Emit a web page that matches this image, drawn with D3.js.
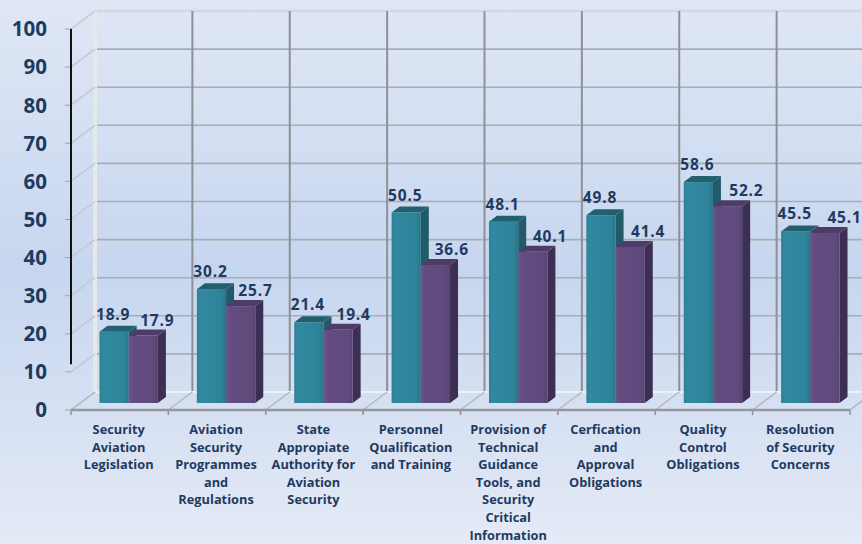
<!DOCTYPE html>
<html>
<head>
<meta charset="utf-8">
<script src="https://cdn.jsdelivr.net/npm/d3@7"></script>
<style>
  html, body { margin: 0; padding: 0; }
  body { width: 862px; height: 544px; overflow: hidden; }
  svg { display: block; }
</style>
</head>
<body>
<svg id="chart" width="862" height="544"></svg>
<script>
// ---------- data ----------
const categories = [
  "Security\nAviation\nLegislation",
  "Aviation\nSecurity\nProgrammes\nand\nRegulations",
  "State\nAppropiate\nAuthority for\nAviation\nSecurity",
  "Personnel\nQualification\nand Training",
  "Provision of\nTechnical\nGuidance\nTools, and\nSecurity\nCritical\nInformation",
  "Cerfication\nand\nApproval\nObligations",
  "Quality\nControl\nObligations",
  "Resolution\nof Security\nConcerns"
];
const seriesA = [18.9, 30.2, 21.4, 50.5, 48.1, 49.8, 58.6, 45.5];
const seriesB = [17.9, 25.7, 19.4, 36.6, 40.1, 41.4, 52.2, 45.1];
const yTicks = [0, 10, 20, 30, 40, 50, 60, 70, 80, 90, 100];

// ---------- layout ----------
const svg = d3.select("#chart");
const W = 862, H = 544;
const textColor = "#1F3A60";
const depthX = 24, depthY = -18;       // wall depth offset
const barDX = 8, barDY = -6;           // bar 3D depth

const x = d3.scaleBand().domain(categories.map((d, i) => i)).range([71, 850]).padding(0);
const yFront = d3.scaleLinear().domain([0, 100]).range([410, 29]);
const yBack = d3.scaleLinear().domain([0, 100]).range([410 + depthY, 29 + depthY]);
const yBar = d3.scaleLinear().domain([0, 100]).range([403, 26]);

const defs = svg.append("defs");
const bg = defs.append("linearGradient").attr("id", "bg").attr("x1", 0).attr("y1", 0).attr("x2", 0).attr("y2", 1);
bg.append("stop").attr("offset", "0%").attr("stop-color", "#DFE7F5");
bg.append("stop").attr("offset", "50%").attr("stop-color", "#C7D6EF");
bg.append("stop").attr("offset", "100%").attr("stop-color", "#E4EAF6");

function hGrad(id, stops) {
  const g = defs.append("linearGradient").attr("id", id).attr("x1", 0).attr("y1", 0).attr("x2", 1).attr("y2", 0);
  stops.forEach(s => g.append("stop").attr("offset", s[0]).attr("stop-color", s[1]));
}
hGrad("tealFront", [["0%", "#2F8196"], ["15%", "#3189A0"], ["85%", "#2E8399"], ["100%", "#2A7489"]]);
hGrad("purpleFront", [["0%", "#6A5488"], ["15%", "#634C80"], ["85%", "#5F4A7C"], ["100%", "#574372"]]);

svg.append("rect").attr("width", W).attr("height", H).attr("fill", "url(#bg)");

// ---------- back wall ----------
const backLeft = 71 + depthX;
const grid = svg.append("g");
yTicks.filter(v => v > 0).forEach(v => {
  grid.append("line")
    .attr("x1", backLeft).attr("x2", W)
    .attr("y1", yBack(v)).attr("y2", yBack(v))
    .attr("stroke", v === 100 ? "#D3D8E0" : "#A8ADB4")
    .attr("stroke-width", v === 100 ? 2.5 : 1.6);
});
categories.forEach((c, i) => {
  if (i === 0) return;
  const xb = x(i) + depthX;
  grid.append("line")
    .attr("x1", xb).attr("x2", xb)
    .attr("y1", yBack(100)).attr("y2", yBack(0))
    .attr("stroke", "#8D9197").attr("stroke-width", 2);
});
grid.append("line").attr("x1", backLeft).attr("x2", W)
  .attr("y1", yBack(0)).attr("y2", yBack(0))
  .attr("stroke", "#EEF0F2").attr("stroke-width", 2);
grid.append("line").attr("x1", backLeft).attr("x2", backLeft)
  .attr("y1", yBack(100)).attr("y2", yBack(0))
  .attr("stroke", "#E6E8EA").attr("stroke-width", 4);
yTicks.forEach(v => {
  grid.append("line")
    .attr("x1", 71).attr("y1", yFront(v))
    .attr("x2", backLeft).attr("y2", yBack(v))
    .attr("stroke", "#C4C8CE").attr("stroke-width", 1.5);
});

// ---------- floor ----------
const floorG = svg.append("g");
d3.range(categories.length + 1).forEach(i => {
  const xf = 71 + i * x.step();
  floorG.append("line").attr("x1", xf).attr("y1", yFront(0))
    .attr("x2", xf + depthX).attr("y2", yBack(0))
    .attr("stroke", "#B4B8BE").attr("stroke-width", 1.5);
  floorG.append("line").attr("x1", xf).attr("x2", xf)
    .attr("y1", yFront(0)).attr("y2", yFront(0) + 5)
    .attr("stroke", "#8C9096").attr("stroke-width", 1.5);
});
floorG.append("line").attr("x1", 71).attr("x2", 71 + categories.length * x.step())
  .attr("y1", yFront(0)).attr("y2", yFront(0))
  .attr("stroke", "#94989E").attr("stroke-width", 2.5);

// ---------- front y axis ----------
const axisG = svg.append("g");
yTicks.forEach(v => {
  axisG.append("line").attr("x1", 65).attr("x2", 71)
    .attr("y1", yFront(v)).attr("y2", yFront(v))
    .attr("stroke", "#A0A4AA").attr("stroke-width", 1);
});
axisG.append("line").attr("x1", 71).attr("x2", 71)
  .attr("y1", yFront(100)).attr("y2", yFront(12))
  .attr("stroke", "#111").attr("stroke-width", 2);
axisG.selectAll("text.ytick").data(yTicks).join("text")
  .attr("class", "ytick")
  .attr("x", 47).attr("y", d => yFront(d))
  .attr("dy", "0.36em")
  .attr("text-anchor", "end")
  .attr("font-family", "'Open Sans', sans-serif")
  .attr("font-weight", 700).attr("font-size", 20.5)
  .attr("fill", textColor)
  .text(d => d);

// ---------- bars ----------
const barW = x.bandwidth() * 0.3;
const inner = d3.scaleBand().domain(["A", "B"]).range([0, barW * 2]).padding(0);
const barOffset = (x.bandwidth() - barW * 2) / 2 + 9;

const colors = {
  A: { front: "url(#tealFront)", top: "#23606F", side: "#215A69" },
  B: { front: "url(#purpleFront)", top: "#4E3C68", side: "#3D2F53" }
};

function drawBar(g, x0, w, v, key) {
  const yt = yBar(v), yb = yBar(0);
  const c = colors[key];
  g.append("path")
    .attr("d", `M${x0 + w},${yt} L${x0 + w + barDX},${yt + barDY} L${x0 + w + barDX},${yb + barDY} L${x0 + w},${yb} Z`)
    .attr("fill", c.side);
  g.append("rect").attr("x", x0).attr("y", yt).attr("width", w).attr("height", yb - yt)
    .attr("fill", c.front);
  g.append("path")
    .attr("d", `M${x0},${yt} L${x0 + barDX},${yt + barDY} L${x0 + w + barDX},${yt + barDY} L${x0 + w},${yt} Z`)
    .attr("fill", c.top);
}

const barsG = svg.append("g");
categories.forEach((cat, i) => {
  const base = x(i) + barOffset;
  drawBar(barsG, base + inner("A"), inner.bandwidth(), seriesA[i], "A");
  drawBar(barsG, base + inner("B"), inner.bandwidth(), seriesB[i], "B");
});

// ---------- value labels ----------
const labG = svg.append("g")
  .attr("font-family", "'Open Sans', sans-serif")
  .attr("font-weight", 700).attr("font-size", 15.5)
  .attr("letter-spacing", 0.8)
  .attr("fill", textColor).attr("text-anchor", "middle");
categories.forEach((cat, i) => {
  const base = x(i) + barOffset;
  labG.append("text")
    .attr("x", base + inner("A") + inner.bandwidth() / 2 - 1)
    .attr("y", yBar(seriesA[i]) - 12)
    .text(seriesA[i].toFixed(1));
  labG.append("text")
    .attr("x", base + inner("B") + inner.bandwidth() / 2 + 14 + i * 0.8)
    .attr("y", yBar(seriesB[i]) - 10)
    .text(seriesB[i].toFixed(1));
});

// ---------- category labels ----------
const catG = svg.append("g")
  .attr("font-family", "'Open Sans', sans-serif")
  .attr("font-weight", 700).attr("font-size", 12.8)
  .attr("fill", textColor).attr("text-anchor", "middle");
categories.forEach((cat, i) => {
  const t = catG.append("text")
    .attr("x", x(i) + x.bandwidth() / 2 - 1)
    .attr("y", 434);
  cat.split("\n").forEach((line, j) => {
    t.append("tspan")
      .attr("x", x(i) + x.bandwidth() / 2 - 1)
      .attr("dy", j === 0 ? 0 : 17.6)
      .text(line);
  });
});
</script>
</body>
</html>
